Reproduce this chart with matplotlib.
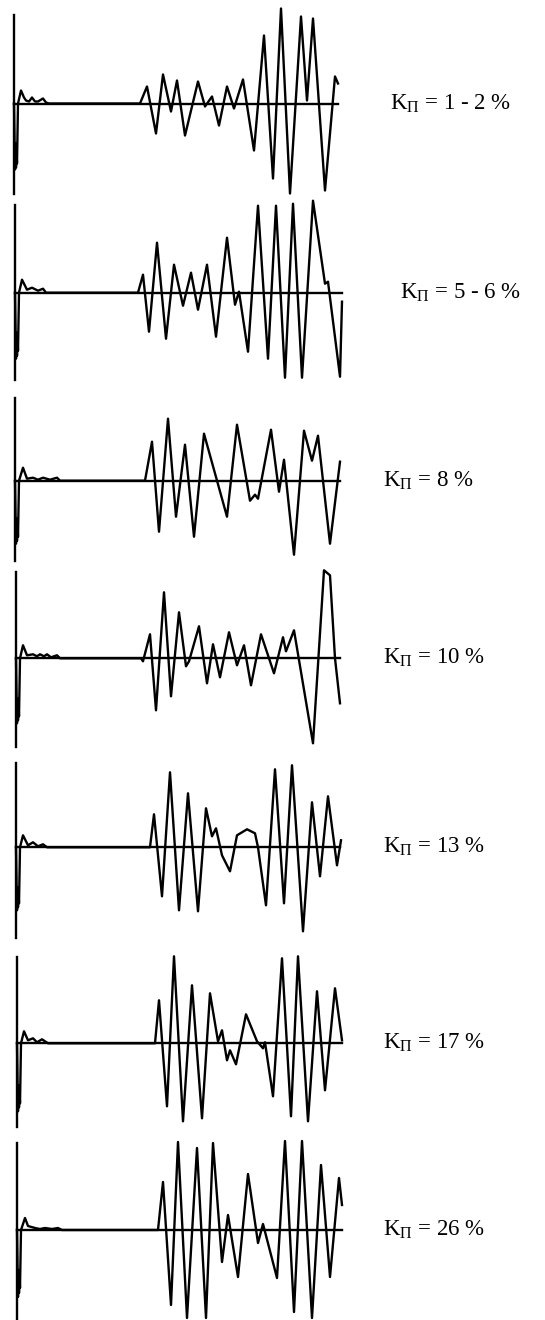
import matplotlib.pyplot as plt

plt.rcParams["mathtext.fontset"] = "custom"
plt.rcParams["mathtext.rm"] = "Liberation Serif"
plt.rcParams["mathtext.it"] = "Liberation Serif:italic"

W, H = 545, 1320

# waveform samples: x in pixels along the trace, amplitude above/below the zero line
x_k1 = [14, 15, 15.5, 16, 16.5, 17, 18, 21, 24, 26, 29, 32, 35, 38, 43, 46, 49,
        140, 147, 156, 163, 171, 177, 185, 198, 205, 212, 219, 227, 234, 243, 254,
        264, 273, 281, 290, 301, 307, 313, 325, 335, 338]
y_k1 = [0, -66, -40, -64, -45, -60, 0, 13, 6, 3, 2, 6, 2, 2, 5, 1, 0,
        0, 17, -30, 29, -8, 23, -32, 22, -3, 7, -22, 17, -5, 24, -47,
        68, -75, 95, -90, 87, 3, 85, -87, 27, 20]

x_k2 = [15, 16, 16.5, 17, 17.5, 18, 19, 22, 27, 32, 38, 43, 46,
        138, 143, 149, 157, 166, 174, 183, 191, 198, 207, 216, 227, 235, 239, 248,
        258, 268, 276, 285, 293, 302, 313, 325, 328, 340, 342]
y_k2 = [0, -66, -40, -63, -45, -58, 0, 13, 3, 5, 2, 4, 0,
        0, 18, -39, 50, -46, 28, -13, 20, -17, 28, -44, 55, -12, 1, -59,
        87, -66, 87, -85, 89, -85, 92, 9, 11, -84, -9]

x_k3 = [15, 16, 16.5, 17, 17.5, 18, 19, 23, 27, 33, 38, 43, 50, 57, 60,
        145, 152, 159, 168, 176, 185, 194, 204, 227, 237, 250, 255, 258,
        271, 279, 284, 294, 304, 312, 318, 330, 340]
y_k3 = [0, -63, -38, -60, -42, -56, 0, 13, 2, 3, 1, 3, 1, 3, 0,
        0, 39, -51, 62, -36, 36, -56, 47, -36, 56, -20, -14, -18,
        51, -11, 21, -74, 50, 20, 45, -63, 19]

x_k4 = [16, 17, 17.5, 18, 18.5, 19, 20, 23, 27, 33, 37, 40, 44, 47, 51, 57, 60,
        141, 143, 150, 156, 164, 171, 179, 186, 189, 199, 207, 213, 220, 229, 237,
        244, 251, 261, 274, 283, 286, 294, 313, 324, 330, 335, 340]
y_k4 = [0, -65, -40, -62, -44, -58, 0, 13, 3, 4, 2, 4, 2, 4, 1, 3, 0,
        0, -3, 24, -52, 66, -38, 46, -8, -3, 32, -25, 14, -19, 26, -7,
        13, -27, 24, -15, 21, 7, 28, -85, 88, 83, 0, -45]

x_k5 = [16, 17, 17.5, 18, 18.5, 19, 20, 23, 28, 33, 38, 43, 47,
        150, 154, 162, 170, 179, 188, 198, 206, 212, 216, 222, 230, 237, 247, 255,
        258, 266, 275, 284, 292, 303, 312, 320, 328, 337, 341]
y_k5 = [0, -63, -40, -60, -44, -56, 0, 12, 2, 5, 1, 3, 0,
        0, 33, -49, 75, -63, 54, -64, 39, 11, 19, -8, -24, 12, 18, 14,
        0, -58, 78, -56, 82, -84, 45, -29, 51, -18, 7]

x_k6 = [17, 18, 18.5, 19, 19.5, 20, 21, 24, 28, 33, 37, 42, 48,
        155, 159, 167, 174, 183, 192, 202, 210, 218, 222, 227, 230, 236, 246, 257,
        263, 265, 273, 282, 291, 298, 308, 317, 325, 335, 342]
y_k6 = [0, -68, -42, -64, -46, -60, 0, 12, 3, 5, 1, 4, 0,
        0, 43, -63, 87, -78, 58, -75, 50, 2, 13, -17, -7, -21, 29, 2,
        -5, 1, -53, 85, -73, 87, -78, 52, -47, 55, 3]

x_k7 = [17, 18, 18.5, 19, 19.5, 20, 21, 25, 28, 35, 40, 45, 52, 58, 62,
        158, 163, 171, 178, 187, 197, 206, 213, 222, 228, 238, 248, 258,
        263, 277, 285, 294, 302, 312, 321, 330, 339, 342]
y_k7 = [0, -67, -40, -63, -45, -58, 0, 12, 4, 2, 1, 2, 1, 2, 0,
        0, 48, -75, 88, -88, 82, -88, 87, -32, 15, -47, 56, -13,
        6, -48, 89, -82, 89, -88, 65, -47, 52, 25]

labels = [
    r"$\mathrm{K_{П}}$ = 1 - 2 %",
    r"$\mathrm{K_{П}}$ = 5 - 6 %",
    r"$\mathrm{K_{П}}$ = 8 %",
    r"$\mathrm{K_{П}}$ = 10 %",
    r"$\mathrm{K_{П}}$ = 13 %",
    r"$\mathrm{K_{П}}$ = 17 %",
    r"$\mathrm{K_{П}}$ = 26 %",
]

traces = [(x_k1, y_k1), (x_k2, y_k2), (x_k3, y_k3), (x_k4, y_k4),
          (x_k5, y_k5), (x_k6, y_k6), (x_k7, y_k7)]

# layout (pixels)
baselines = [103.5, 292.7, 480.7, 658.3, 847.3, 1043.3, 1230]
axis_x = [14, 15, 15, 16, 16, 17, 17]
axis_top = [88.5, 88, 83, 86, 84, 86, 87]
axis_bot = [-90, -87, -80, -89, -91, -84, -90]
line_end = [338, 342, 340, 340, 340, 342, 342]
label_x = [390, 400, 383, 383, 383, 383, 383]

fig = plt.figure(figsize=(W / 100, H / 100), dpi=100)
fig.patch.set_facecolor("white")

half = 100
for i, (xs, ys) in enumerate(traces):
    base = baselines[i]
    ax = fig.add_axes([0, 1 - (base + half) / H, 1, 2 * half / H])
    ax.set_xlim(0, W)
    ax.set_ylim(-half, half)
    ax.axis("off")
    ax.patch.set_alpha(0)

    ax.plot([axis_x[i], axis_x[i]], [axis_bot[i], axis_top[i]],
            color="black", lw=1.7, clip_on=False)
    ax.plot([axis_x[i], line_end[i]], [0, 0], color="black", lw=1.7, clip_on=False)
    ax.plot(xs, ys, color="black", lw=1.7, clip_on=False)

    ax.text(label_x[i], 0, labels[i], fontsize=16.5, family="Liberation Serif",
            va="center", ha="left")

fig.savefig("out.png", dpi=100)
